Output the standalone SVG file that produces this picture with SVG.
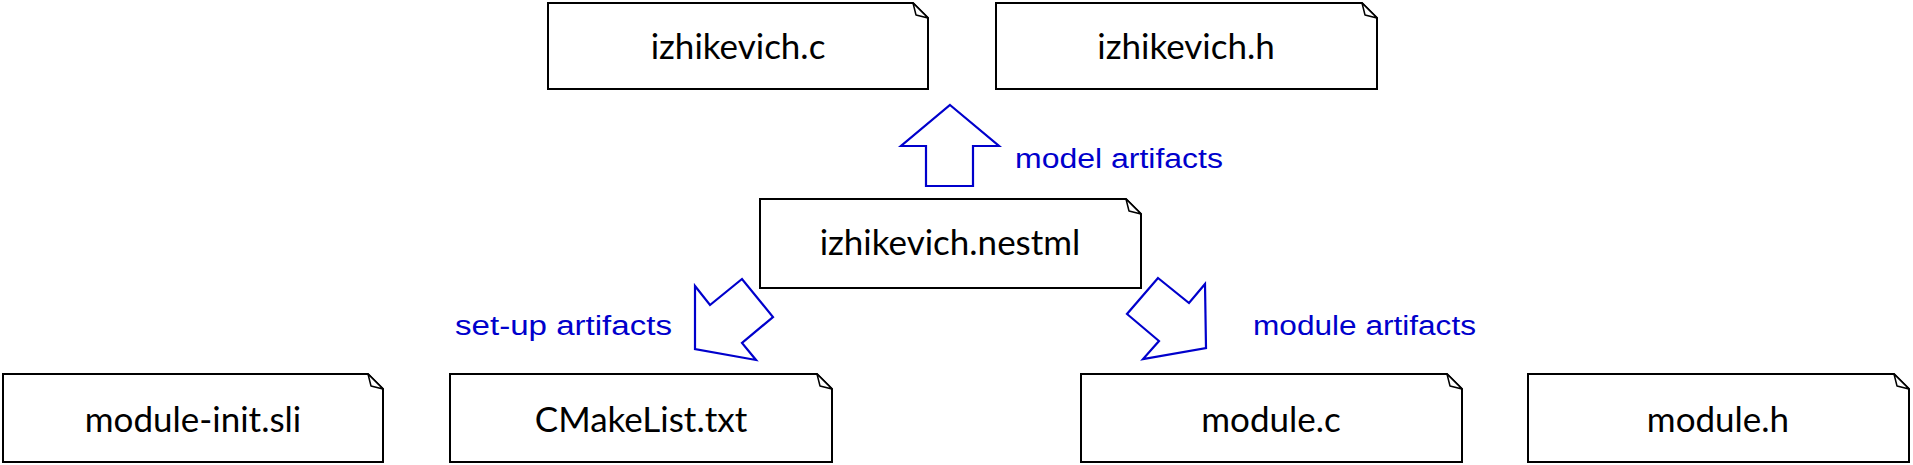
<svg xmlns="http://www.w3.org/2000/svg" width="1913" height="465" viewBox="0 0 1913 465">
<style>
.box{fill:#fff;stroke:#000;stroke-width:2}
.fold{fill:#fff;stroke:#000;stroke-width:1.5;stroke-linejoin:round}
.lbl{font-family:Lato,"Liberation Sans",sans-serif;font-size:35px;fill:#000;text-anchor:middle}
.arr{fill:#fff;stroke:#0000cc;stroke-width:2.2;stroke-linejoin:miter}
.note{font-family:"Liberation Sans",sans-serif;font-size:27px;fill:#0000cc}
</style>
<g id="izhikevich_c">
<path class="box" d="M548,3 H913 L928,18 V89 H548 Z"/>
<path class="fold" d="M913,3 L916,15 L928,18 Z"/>
<text class="lbl" x="738" y="59">izhikevich.c</text>
</g>
<g id="izhikevich_h">
<path class="box" d="M996,3 H1362 L1377,18 V89 H996 Z"/>
<path class="fold" d="M1362,3 L1365,15 L1377,18 Z"/>
<text class="lbl" x="1186" y="59">izhikevich.h</text>
</g>
<g id="izhikevich_nestml">
<path class="box" d="M760,199 H1126 L1141,214 V288 H760 Z"/>
<path class="fold" d="M1126,199 L1129,211 L1141,214 Z"/>
<text class="lbl" x="950" y="255">izhikevich.nestml</text>
</g>
<g id="module_init_sli">
<path class="box" d="M3,374 H368 L383,389 V462 H3 Z"/>
<path class="fold" d="M368,374 L371,386 L383,389 Z"/>
<text class="lbl" x="193" y="432">module-init.sli</text>
</g>
<g id="cmakelist_txt">
<path class="box" d="M450,374 H817 L832,389 V462 H450 Z"/>
<path class="fold" d="M817,374 L820,386 L832,389 Z"/>
<text class="lbl" x="641" y="432">CMakeList.txt</text>
</g>
<g id="module_c">
<path class="box" d="M1081,374 H1447 L1462,389 V462 H1081 Z"/>
<path class="fold" d="M1447,374 L1450,386 L1462,389 Z"/>
<text class="lbl" x="1271" y="432">module.c</text>
</g>
<g id="module_h">
<path class="box" d="M1528,374 H1894 L1909,389 V462 H1528 Z"/>
<path class="fold" d="M1894,374 L1897,386 L1909,389 Z"/>
<text class="lbl" x="1718" y="432">module.h</text>
</g>
<g id="connectors">
<g id="model_artifacts">
<path class="arr" d="M950,105 L999,146 H973 V186 H926 V146 H901 Z"/>
<text class="note" x="1015" y="168" textLength="208" lengthAdjust="spacingAndGlyphs">model artifacts</text>
</g>
<g id="setup_artifacts">
<path class="arr" d="M695,286 L710,305 L742,279 L773,317 L742,343 L756,360 L695,349 Z"/>
<text class="note" x="455" y="335" textLength="217" lengthAdjust="spacingAndGlyphs">set-up artifacts</text>
</g>
<g id="module_artifacts">
<path class="arr" d="M1158,278 L1189,303 L1205,284 L1206,348 L1143,359 L1159,341 L1127,314 Z"/>
<text class="note" x="1253" y="335" textLength="223" lengthAdjust="spacingAndGlyphs">module artifacts</text>
</g>
</g>
</svg>
